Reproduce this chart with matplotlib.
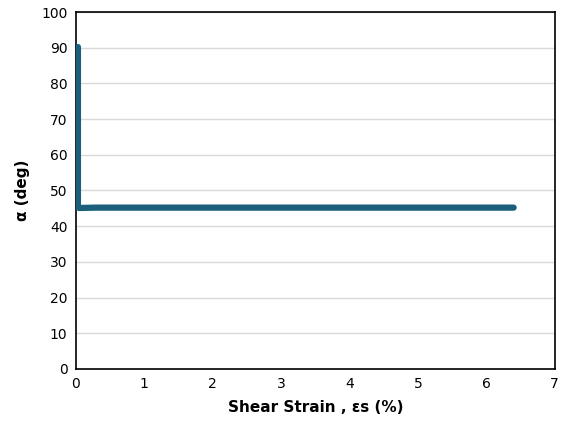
import matplotlib
matplotlib.use('Agg')
import matplotlib.pyplot as plt

# shear strain (%) and alpha (deg)
strain = [0.03, 0.03, 0.05, 0.3, 1.5, 3.0, 4.5, 6.4]
alpha = [90.2, 45.3, 45.1, 45.2, 45.2, 45.2, 45.2, 45.2]

xticks = [0, 1, 2, 3, 4, 5, 6, 7]
yticks = list(range(0, 101, 10))

fig = plt.figure(figsize=(5.62, 4.30), dpi=100)
ax = fig.add_axes([0.135, 0.142, 0.852, 0.830])

ax.plot(strain, alpha, color='#1b5f7c', linewidth=4.5, solid_capstyle='round',
        solid_joinstyle='miter', zorder=3)

ax.set_xlim(0, 7)
ax.set_ylim(0, 100)
ax.set_xticks(xticks)
ax.set_yticks(yticks)
ax.yaxis.grid(True, color='#d9d9d9', linewidth=1)
ax.set_axisbelow(True)
for s in ax.spines.values():
    s.set_color('black')
    s.set_linewidth(1.2)
ax.tick_params(length=0, labelsize=10, pad=6)

ax.set_xlabel('Shear Strain , εs (%)', fontsize=11, fontweight='bold', labelpad=6)
ax.set_ylabel('α (deg)', fontsize=11, fontweight='bold', labelpad=8)

fig.savefig('out.png', dpi=100)
